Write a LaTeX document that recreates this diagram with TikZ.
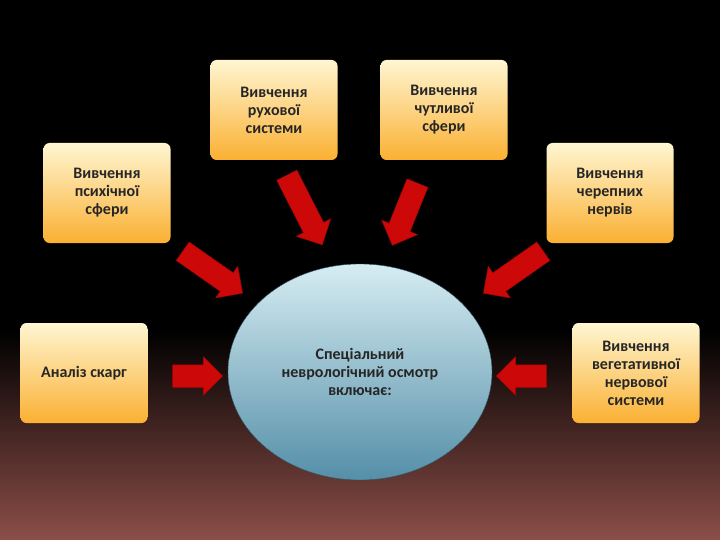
\documentclass[tikz,border=0pt]{standalone}
\usepackage{fontspec}
\setmainfont{Carlito}
\usetikzlibrary{shapes.arrows,shapes.geometric}
\definecolor{bgbrown}{RGB}{140,78,72}
\definecolor{boxtop}{RGB}{255,246,210}
\definecolor{boxbot}{RGB}{250,176,50}
\definecolor{elltop}{RGB}{214,236,242}
\definecolor{ellbot}{RGB}{84,143,168}
\definecolor{arr}{RGB}{205,8,8}
\tikzset{
 box/.style={rounded corners=6pt, top color=boxtop, bottom color=boxbot, minimum width=127pt, minimum height=100pt, align=center, font=\bfseries\fontsize{16}{18}\selectfont, text=black!85, inner sep=2pt},
 barrow/.style={single arrow, fill=arr, draw=arr!80!black, line width=0.5pt, single arrow head extend=8pt, inner xsep=0pt, inner ysep=11pt}
}
\begin{document}
\begin{tikzpicture}[x=1pt,y=-1pt]
\useasboundingbox (0,0) rectangle (720,540);
\fill[black] (0,0) rectangle (720,540);
\shade[top color=black, bottom color=bgbrown] (0,330) rectangle (720,540);
\node[box] (a) at (84,373) {Аналіз скарг};
\node[box] (b) at (107,193) {Вивчення\\психічної\\сфери};
\node[box] (c) at (274,110) {Вивчення\\рухової\\системи};
\node[box] (d) at (444,110) {Вивчення\\чутливої\\сфери};
\node[box] (e) at (610,193) {Вивчення\\черепних\\нервів};
\node[box] (f) at (636,373) {Вивчення\\вегетативної\\нервової\\системи};
\node[ellipse, minimum width=264pt, minimum height=216pt, top color=elltop, bottom color=ellbot, draw=ellbot!60!black, line width=0.4pt, align=center, font=\bfseries\fontsize{16}{18}\selectfont, text=black!85] (m) at (360,372) {Спеціальний\\неврологічний осмотр\\включає:};
\node[barrow, minimum height=50pt] (ra) at (192,376) {};
\node[barrow, minimum height=50pt, rotate=180] (rf) at (527,376) {};
\node[barrow, minimum height=73pt, rotate=-35] (rb) at (208,269) {};
\node[barrow, minimum height=73pt, rotate=-145] (re) at (518,269) {};
\node[barrow, minimum height=78pt, rotate=-63] (rc) at (302,205) {};
\node[barrow, minimum height=67pt, rotate=-112] (rd) at (407,209) {};
\end{tikzpicture}
\end{document}
